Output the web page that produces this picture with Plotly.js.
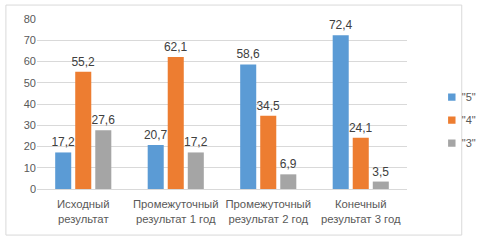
<!DOCTYPE html>
<html><head><meta charset="utf-8">
<script src="https://cdn.plot.ly/plotly-3.0.1.min.js"></script>
<style>html,body{margin:0;padding:0;background:#fff}#c{width:494px;height:241px}</style>
</head><body><div id="c"></div>
<script>
const categories = ['Исходный<br>результат', 'Промежуточный<br>результат 1 год', 'Промежуточный<br>результат 2 год', 'Конечный<br>результат 3 год'];
const seriesNames = ['"5"', '"4"', '"3"'];
const values5 = [17.2, 20.7, 58.6, 72.4];
const values4 = [55.2, 62.1, 34.5, 24.1];
const values3 = [27.6, 17.2, 6.9, 3.5];
const yTicks = [0, 10, 20, 30, 40, 50, 60, 70, 80];

const colors = ['#5b9bd5', '#ed7d31', '#a5a5a5'];
const allValues = [values5, values4, values3];
const font = 'Liberation Sans, Arial, sans-serif';

const traces = allValues.map((v, i) => ({
  type: 'bar', x: categories, y: v, name: seriesNames[i],
  legendgroup: 'g' + i,
  marker: {color: colors[i]},
  texttemplate: '%{y:.1f}', textposition: 'outside', cliponaxis: false,
  constraintext: 'none',
  textfont: {family: font, size: 12, color: '#404040'},
  hoverinfo: 'none'
}));

const layout = {
  width: 494, height: 241,
  margin: {l: 37, r: 65, t: 19, b: 52},
  paper_bgcolor: '#fff', plot_bgcolor: '#fff',
  separators: ', ',
  barmode: 'group', bargap: 0.35, bargroupgap: 0.2,
  font: {family: font, size: 11, color: '#595959'},
  xaxis: {showgrid: false, showline: false, zeroline: false, ticks: '', tickangle: 0, tickfont: {size: 11.3, color: '#595959'}, ticklabelstandoff: 7, automargin: false},
  yaxis: {range: [0, 80], tickvals: yTicks, showgrid: true, gridcolor: '#d9d9d9', gridwidth: 1, zeroline: true, zerolinecolor: '#d9d9d9', showline: false, ticks: '', tickfont: {size: 11, color: '#595959'}, automargin: false},
  showlegend: true,
  legend: {x: 1.04, y: 0.405, xanchor: 'left', yanchor: 'middle', font: {size: 11, color: '#595959'}, itemwidth: 30, tracegroupgap: 4, bgcolor: 'rgba(0,0,0,0)'},
  shapes: [{type: 'rect', xref: 'paper', yref: 'paper', x0: -0.084, x1: 1.148, y0: -0.271, y1: 1.082, line: {color: '#d9d9d9', width: 1}, layer: 'below'}]
};

Plotly.newPlot('c', traces, layout, {displayModeBar: false, staticPlot: true}).then(() => {
  document.querySelectorAll('.legend .legendpoints path').forEach(p => {
    const t = p.getAttribute('transform') || '';
    p.setAttribute('transform', t + ' translate(10,0) scale(0.62)');
  });
});
</script></body></html>
